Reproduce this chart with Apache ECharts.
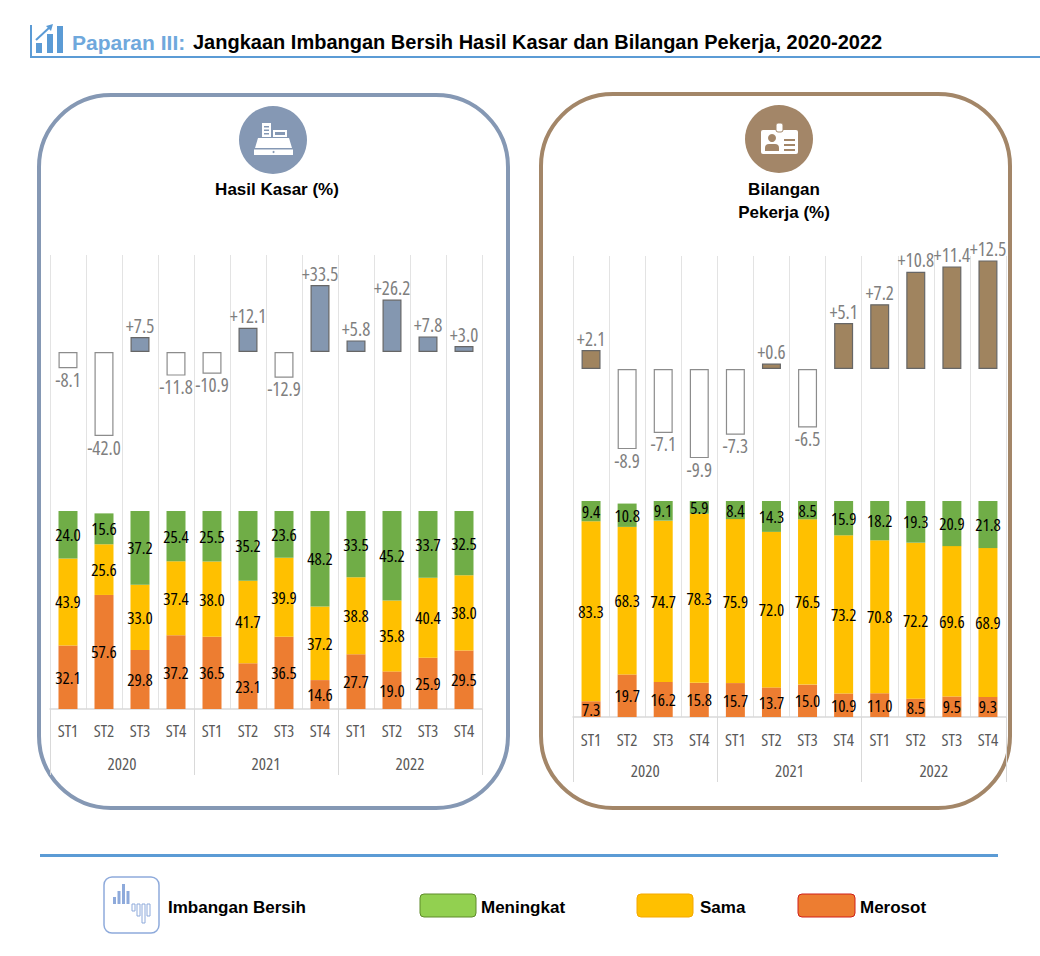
<!DOCTYPE html>
<html>
<head>
<meta charset="utf-8">
<title>Paparan III</title>
<script src="https://cdn.jsdelivr.net/npm/echarts@6/dist/echarts.min.js"></script>
<style>
  html, body { margin: 0; padding: 0; background: #fff; }
  #chart { width: 1040px; height: 956px; }
  /* numbers use the narrow cut of Open Sans */
  #chart text[style*="Open Sans"], #chart tspan[style*="Open Sans"],
  #chart text[font-family*="Open Sans"], #chart tspan[font-family*="Open Sans"] {
    font-stretch: condensed !important;
  }
</style>
</head>
<body>
<div id="chart"></div>
<script>
// data
var quarters = ['ST1','ST2','ST3','ST4','ST1','ST2','ST3','ST4','ST1','ST2','ST3','ST4'];
var years = ['2020','2021','2022'];

// Hasil Kasar (%)
var hasilNet       = [-8.1, -42.0, 7.5, -11.8, -10.9, 12.1, -12.9, 33.5, 5.8, 26.2, 7.8, 3.0];
var hasilMeningkat = [24.0, 15.6, 37.2, 25.4, 25.5, 35.2, 23.6, 48.2, 33.5, 45.2, 33.7, 32.5];
var hasilSama      = [43.9, 25.6, 33.0, 37.4, 38.0, 41.7, 39.9, 37.2, 38.8, 35.8, 40.4, 38.0];
var hasilMerosot   = [32.1, 57.6, 29.8, 37.2, 36.5, 23.1, 36.5, 14.6, 27.7, 19.0, 25.9, 29.5];

// Bilangan Pekerja (%)
var pekerjaNet       = [2.1, -8.9, -7.1, -9.9, -7.3, 0.6, -6.5, 5.1, 7.2, 10.8, 11.4, 12.5];
var pekerjaMeningkat = [9.4, 10.8, 9.1, 5.9, 8.4, 14.3, 8.5, 15.9, 18.2, 19.3, 20.9, 21.8];
var pekerjaSama      = [83.3, 68.3, 74.7, 78.3, 75.9, 72.0, 76.5, 73.2, 70.8, 72.2, 69.6, 68.9];
var pekerjaMerosot   = [7.3, 19.7, 16.2, 15.8, 15.7, 13.7, 15.0, 10.9, 11.0, 8.5, 9.5, 9.3];

var numFont = "'Open Sans', 'Roboto Condensed', sans-serif";
var txtFont = "'Liberation Sans', Arial, sans-serif";
var C_GREEN = '#70ad47', C_YELLOW = '#ffc000', C_ORANGE = '#ed7d31';
var C_BLUE = '#5b9bd5', C_SLATE = '#8497b0', C_BROWN = '#a38668';

function netData(arr, posColor) {
    return arr.map(function (v) {
        return {
            value: v,
            itemStyle: { color: v >= 0 ? posColor : '#ffffff', borderColor: v >= 0 ? '#666' : '#8c8c8c' },
            label: { position: v >= 0 ? 'top' : 'bottom' }
        };
    });
}
function netSeries(arr, posColor, xi, yi) {
    return {
        type: 'bar', xAxisIndex: xi, yAxisIndex: yi, barWidth: 19,
        data: netData(arr, posColor),
        itemStyle: { borderWidth: 1.2 },
        label: {
            show: true, distance: 2, color: '#7f7f7f', fontSize: 19, fontFamily: numFont,
            formatter: function (p) { return (p.value > 0 ? '+' : '') + p.value.toFixed(1); }
        }
    };
}
function stackSeries(name, arr, color, xi, yi, stack) {
    return {
        name: name, type: 'bar', stack: stack, xAxisIndex: xi, yAxisIndex: yi, barWidth: 19,
        data: arr, itemStyle: { color: color },
        label: {
            show: true, position: 'inside', color: '#000', fontSize: 17, fontWeight: 500, fontFamily: numFont,
            formatter: function (p) { return p.value.toFixed(1); }
        }
    };
}
function quarterAxis(gi, margin) {
    return {
        type: 'category', gridIndex: gi, data: quarters, position: 'bottom',
        axisLine: { show: true, onZero: false, lineStyle: { color: '#d9d9d9', width: 1.5 } },
        axisTick: { show: false },
        splitLine: { show: true, interval: 0, lineStyle: { color: '#e3e3e3', width: 1 } },
        axisLabel: { interval: 0, margin: margin, color: '#595959', fontSize: 17, fontFamily: numFont }
    };
}
function yearAxis(gi, margin, tickLen) {
    return {
        type: 'category', gridIndex: gi, data: years, position: 'bottom',
        axisLine: { show: false, onZero: false },
        axisTick: { show: true, interval: 0, length: tickLen, lineStyle: { color: '#d9d9d9' } },
        splitLine: { show: false },
        axisLabel: { interval: 0, margin: margin, color: '#595959', fontSize: 17, fontFamily: numFont }
    };
}

var graphics = [
    // title
    { type: 'rect', shape: { x: 30, y: 25, width: 2, height: 33 }, style: { fill: C_BLUE } },
    { type: 'rect', shape: { x: 30, y: 56, width: 1010, height: 2 }, style: { fill: C_BLUE } },
    { type: 'rect', shape: { x: 36, y: 43, width: 6, height: 10 }, style: { fill: C_BLUE } },
    { type: 'rect', shape: { x: 47, y: 34, width: 6, height: 19 }, style: { fill: C_BLUE } },
    { type: 'rect', shape: { x: 57, y: 26, width: 6, height: 27 }, style: { fill: C_BLUE } },
    { type: 'line', shape: { x1: 36, y1: 40, x2: 50, y2: 27 }, style: { stroke: C_BLUE, lineWidth: 2 } },
    { type: 'polygon', shape: { points: [[46, 26], [53, 24], [51, 31]] }, style: { fill: C_BLUE } },
    { type: 'text', x: 72, y: 42, style: { text: 'Paparan III:', fill: '#6fa8dc', font: 'bold 21px ' + txtFont, verticalAlign: 'middle' } },
    { type: 'text', x: 193, y: 42, style: { text: 'Jangkaan Imbangan Bersih Hasil Kasar dan Bilangan Pekerja, 2020-2022', fill: '#000', font: 'bold 20px ' + txtFont, verticalAlign: 'middle' } },

    // panels
    { type: 'rect', shape: { x: 39, y: 95, width: 469, height: 713, r: 72 }, style: { fill: 'none', stroke: '#8598b4', lineWidth: 4 } },
    { type: 'rect', shape: { x: 541, y: 94, width: 469, height: 714, r: 72 }, style: { fill: 'none', stroke: C_BROWN, lineWidth: 4 } },

    // cash register icon
    { type: 'circle', shape: { cx: 273, cy: 140, r: 34 }, style: { fill: '#8598b4' } },
    { type: 'rect', shape: { x: 262, y: 123, width: 9, height: 14 }, style: { fill: '#fff' } },
    { type: 'rect', shape: { x: 264, y: 126, width: 5, height: 1.5 }, style: { fill: '#8598b4' } },
    { type: 'rect', shape: { x: 264, y: 129.5, width: 5, height: 1.5 }, style: { fill: '#8598b4' } },
    { type: 'rect', shape: { x: 264, y: 133, width: 5, height: 1.5 }, style: { fill: '#8598b4' } },
    { type: 'rect', shape: { x: 273, y: 130, width: 14, height: 7 }, style: { fill: '#fff' } },
    { type: 'rect', shape: { x: 275, y: 132, width: 10, height: 3 }, style: { fill: '#8598b4' } },
    { type: 'polygon', shape: { points: [[258, 138], [289, 138], [292, 148], [255, 148]] }, style: { fill: '#fff' } },
    { type: 'rect', shape: { x: 254, y: 149.5, width: 39, height: 5.5 }, style: { fill: '#fff' } },
    { type: 'circle', shape: { cx: 273.5, cy: 152, r: 1 }, style: { fill: '#8598b4' } },
    { type: 'text', x: 277, y: 189, style: { text: 'Hasil Kasar (%)', fill: '#000', font: 'bold 17px ' + txtFont, align: 'center', verticalAlign: 'middle' } },

    // badge icon
    { type: 'circle', shape: { cx: 779, cy: 139, r: 34 }, style: { fill: C_BROWN } },
    { type: 'rect', shape: { x: 761, y: 130, width: 37, height: 24, r: 2 }, style: { fill: '#fff' } },
    { type: 'rect', shape: { x: 776, y: 123, width: 7, height: 9, r: 2 }, style: { fill: '#fff', stroke: C_BROWN, lineWidth: 1 } },
    { type: 'circle', shape: { cx: 772, cy: 138, r: 4 }, style: { fill: C_BROWN } },
    { type: 'rect', shape: { x: 765, y: 144, width: 14, height: 7, r: [4, 4, 0, 0] }, style: { fill: C_BROWN } },
    { type: 'rect', shape: { x: 784, y: 139, width: 11, height: 2 }, style: { fill: C_BROWN } },
    { type: 'rect', shape: { x: 784, y: 144, width: 11, height: 2 }, style: { fill: C_BROWN } },
    { type: 'rect', shape: { x: 784, y: 149, width: 11, height: 2 }, style: { fill: C_BROWN } },
    { type: 'text', x: 784, y: 189, style: { text: 'Bilangan', fill: '#000', font: 'bold 17px ' + txtFont, align: 'center', verticalAlign: 'middle' } },
    { type: 'text', x: 784, y: 212, style: { text: 'Pekerja (%)', fill: '#000', font: 'bold 17px ' + txtFont, align: 'center', verticalAlign: 'middle' } },

    // legend
    { type: 'rect', shape: { x: 40, y: 854, width: 958, height: 3 }, style: { fill: C_BLUE } },
    { type: 'rect', shape: { x: 104, y: 877, width: 55, height: 56, r: 8 }, style: { fill: '#fff', stroke: '#8eaadb', lineWidth: 1.5 } },
    { type: 'rect', shape: { x: 113, y: 897, width: 3, height: 7 }, style: { fill: '#8eaadb' } },
    { type: 'rect', shape: { x: 117.5, y: 891, width: 3, height: 13 }, style: { fill: '#8eaadb' } },
    { type: 'rect', shape: { x: 122, y: 884, width: 3, height: 20 }, style: { fill: '#8eaadb' } },
    { type: 'rect', shape: { x: 126.5, y: 891, width: 3, height: 13 }, style: { fill: '#8eaadb' } },
    { type: 'rect', shape: { x: 132, y: 904, width: 3, height: 7 }, style: { fill: '#fff', stroke: '#8eaadb', lineWidth: 1 } },
    { type: 'rect', shape: { x: 137, y: 904, width: 3, height: 12 }, style: { fill: '#fff', stroke: '#8eaadb', lineWidth: 1 } },
    { type: 'rect', shape: { x: 142, y: 904, width: 3, height: 19 }, style: { fill: '#fff', stroke: '#8eaadb', lineWidth: 1 } },
    { type: 'rect', shape: { x: 147, y: 904, width: 3, height: 12 }, style: { fill: '#fff', stroke: '#8eaadb', lineWidth: 1 } },
    { type: 'text', x: 168, y: 907, style: { text: 'Imbangan Bersih', fill: '#000', font: 'bold 17px ' + txtFont, verticalAlign: 'middle' } },
    { type: 'rect', shape: { x: 420, y: 894, width: 56, height: 23, r: 4 }, style: { fill: '#92d050', stroke: '#5e8b2a', lineWidth: 1 } },
    { type: 'text', x: 481, y: 907, style: { text: 'Meningkat', fill: '#000', font: 'bold 17px ' + txtFont, verticalAlign: 'middle' } },
    { type: 'rect', shape: { x: 637, y: 894, width: 56, height: 23, r: 4 }, style: { fill: '#ffc000', stroke: '#f5a800', lineWidth: 1 } },
    { type: 'text', x: 700, y: 907, style: { text: 'Sama', fill: '#000', font: 'bold 17px ' + txtFont, verticalAlign: 'middle' } },
    { type: 'rect', shape: { x: 798, y: 894, width: 57, height: 23, r: 4 }, style: { fill: C_ORANGE, stroke: '#d0201a', lineWidth: 1 } },
    { type: 'text', x: 860, y: 907, style: { text: 'Merosot', fill: '#000', font: 'bold 17px ' + txtFont, verticalAlign: 'middle' } }
];

var chart = echarts.init(document.getElementById('chart'), null, { renderer: 'svg' });
var option = {
    backgroundColor: '#fff',
    animation: false,
    grid: [
        { left: 50, width: 432, top: 252, height: 220 },
        { left: 50, width: 432, top: 255, height: 454 },
        { left: 573, width: 433, top: 261, height: 216 },
        { left: 573, width: 433, top: 256, height: 461 }
    ],
    xAxis: [
        { type: 'category', gridIndex: 0, data: quarters, show: false },
        quarterAxis(1, 13),
        yearAxis(1, 46, 66),
        { type: 'category', gridIndex: 2, data: quarters, show: false },
        quarterAxis(3, 14),
        yearAxis(3, 45, 65)
    ],
    yAxis: [
        { type: 'value', gridIndex: 0, min: -60, max: 50, show: false },
        { type: 'value', gridIndex: 1, min: 0, max: 229.3, show: false },
        { type: 'value', gridIndex: 2, min: -12, max: 12, show: false },
        { type: 'value', gridIndex: 3, min: 0, max: 213.4, show: false }
    ],
    series: [
        stackSeries('Merosot', hasilMerosot, C_ORANGE, 1, 1, 'hasil'),
        stackSeries('Sama', hasilSama, C_YELLOW, 1, 1, 'hasil'),
        stackSeries('Meningkat', hasilMeningkat, C_GREEN, 1, 1, 'hasil'),
        netSeries(hasilNet, C_SLATE, 0, 0),
        stackSeries('Merosot', pekerjaMerosot, C_ORANGE, 4, 3, 'pekerja'),
        stackSeries('Sama', pekerjaSama, C_YELLOW, 4, 3, 'pekerja'),
        stackSeries('Meningkat', pekerjaMeningkat, C_GREEN, 4, 3, 'pekerja'),
        netSeries(pekerjaNet, '#a0845f', 3, 2)
    ],
    graphic: graphics
};
chart.setOption(option);
</script>
</body>
</html>
